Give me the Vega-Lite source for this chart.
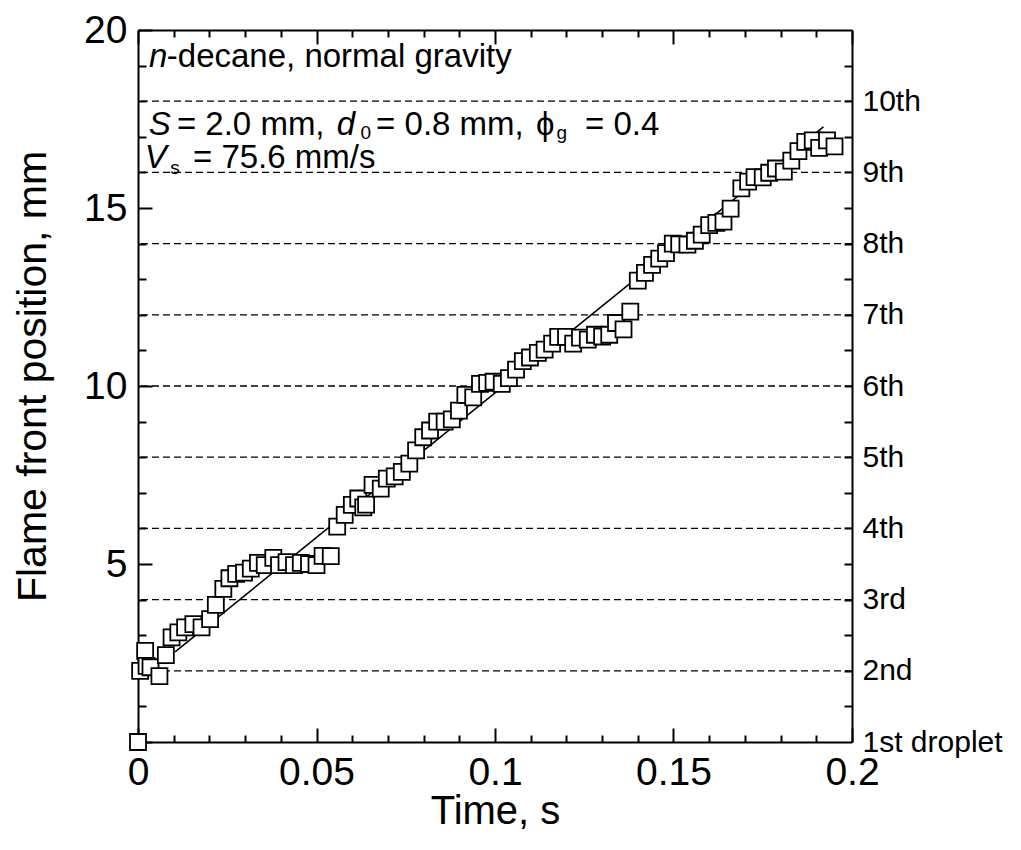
{
  "$schema": "https://vega.github.io/schema/vega-lite/v6.json",
  "width": 714,
  "height": 712,
  "autosize": {"type": "none"},
  "padding": {"left": 138, "top": 30, "right": 169, "bottom": 108},
  "background": "white",
  "config": {
    "font": "Liberation Sans",
    "view": {"stroke": null},
    "axis": {
      "grid": false,
      "domainColor": "black",
      "domainWidth": 2,
      "tickColor": "black",
      "tickWidth": 2,
      "labelColor": "black",
      "titleColor": "black",
      "titleFontWeight": "normal",
      "labelFlush": false,
      "labelOverlap": false
    }
  },
  "datasets": {
    "grid": [{"pos": 2}, {"pos": 4}, {"pos": 6}, {"pos": 8}, {"pos": 10}, {"pos": 12}, {"pos": 14}, {"pos": 16}, {"pos": 18}],
    "fit": [{"t": 0.0104, "y": 2.53}, {"t": 0.192, "y": 17.28}],
    "pts": [
      {"t": 0.0, "y": 0.0}, {"t": 0.0006, "y": 2.0}, {"t": 0.002, "y": 2.56}, {"t": 0.0024, "y": 2.14},
      {"t": 0.0035, "y": 2.1}, {"t": 0.006, "y": 1.85}, {"t": 0.0078, "y": 2.44}, {"t": 0.0094, "y": 2.94},
      {"t": 0.0113, "y": 3.08}, {"t": 0.0132, "y": 3.22}, {"t": 0.0155, "y": 3.31}, {"t": 0.0178, "y": 3.22},
      {"t": 0.0202, "y": 3.45}, {"t": 0.0218, "y": 3.85}, {"t": 0.0239, "y": 4.3}, {"t": 0.0256, "y": 4.6},
      {"t": 0.0275, "y": 4.72}, {"t": 0.0297, "y": 4.76}, {"t": 0.0316, "y": 4.87}, {"t": 0.0336, "y": 5.03},
      {"t": 0.0355, "y": 4.97}, {"t": 0.0379, "y": 5.17}, {"t": 0.0395, "y": 4.97}, {"t": 0.0416, "y": 5.05},
      {"t": 0.0437, "y": 4.97}, {"t": 0.0456, "y": 5.03}, {"t": 0.0479, "y": 5.0}, {"t": 0.05, "y": 4.97},
      {"t": 0.0517, "y": 5.23}, {"t": 0.054, "y": 5.22}, {"t": 0.0558, "y": 6.05}, {"t": 0.0579, "y": 6.38},
      {"t": 0.0599, "y": 6.66}, {"t": 0.0617, "y": 6.84}, {"t": 0.0631, "y": 6.59}, {"t": 0.0639, "y": 6.67},
      {"t": 0.0657, "y": 7.22}, {"t": 0.068, "y": 7.12}, {"t": 0.0697, "y": 7.4}, {"t": 0.0719, "y": 7.46},
      {"t": 0.0739, "y": 7.59}, {"t": 0.076, "y": 7.82}, {"t": 0.0779, "y": 8.19}, {"t": 0.0799, "y": 8.56},
      {"t": 0.0818, "y": 8.75}, {"t": 0.0838, "y": 9.0}, {"t": 0.0859, "y": 9.0}, {"t": 0.0879, "y": 9.06},
      {"t": 0.0899, "y": 9.31}, {"t": 0.0917, "y": 9.75}, {"t": 0.0939, "y": 9.68}, {"t": 0.0958, "y": 10.06},
      {"t": 0.0978, "y": 10.09}, {"t": 0.0996, "y": 10.12}, {"t": 0.1019, "y": 10.06}, {"t": 0.1039, "y": 10.22},
      {"t": 0.1059, "y": 10.46}, {"t": 0.1078, "y": 10.7}, {"t": 0.1098, "y": 10.8}, {"t": 0.112, "y": 10.93},
      {"t": 0.1139, "y": 11.02}, {"t": 0.116, "y": 11.19}, {"t": 0.1177, "y": 11.38}, {"t": 0.1199, "y": 11.38},
      {"t": 0.1219, "y": 11.19}, {"t": 0.1238, "y": 11.36}, {"t": 0.126, "y": 11.3}, {"t": 0.128, "y": 11.44},
      {"t": 0.13, "y": 11.39}, {"t": 0.132, "y": 11.44}, {"t": 0.1339, "y": 11.77}, {"t": 0.136, "y": 11.59},
      {"t": 0.1379, "y": 12.09}, {"t": 0.14, "y": 12.96}, {"t": 0.142, "y": 13.18}, {"t": 0.144, "y": 13.4},
      {"t": 0.146, "y": 13.58}, {"t": 0.1479, "y": 13.73}, {"t": 0.1498, "y": 14.0}, {"t": 0.1516, "y": 13.98},
      {"t": 0.1539, "y": 13.97}, {"t": 0.156, "y": 14.08}, {"t": 0.1579, "y": 14.25}, {"t": 0.16, "y": 14.52},
      {"t": 0.162, "y": 14.58}, {"t": 0.164, "y": 14.62}, {"t": 0.166, "y": 14.98}, {"t": 0.169, "y": 15.55},
      {"t": 0.1709, "y": 15.74}, {"t": 0.1727, "y": 15.87}, {"t": 0.175, "y": 15.86}, {"t": 0.1768, "y": 15.99},
      {"t": 0.1787, "y": 16.11}, {"t": 0.1809, "y": 16.02}, {"t": 0.183, "y": 16.33}, {"t": 0.185, "y": 16.6},
      {"t": 0.1869, "y": 16.86}, {"t": 0.189, "y": 16.9}, {"t": 0.1908, "y": 16.69}, {"t": 0.193, "y": 16.9},
      {"t": 0.1951, "y": 16.73}
    ],
    "txtNormal": [
      {"t": 0.00807, "y": 18.96, "s": "-decane, normal gravity"},
      {"t": 0.0109, "y": 17.05, "s": "= 2.0 mm,"},
      {"t": 0.0667, "y": 17.05, "s": "= 0.8 mm,"},
      {"t": 0.1115, "y": 17.05, "s": "ϕ"},
      {"t": 0.1252, "y": 17.05, "s": "= 0.4"},
      {"t": 0.0154, "y": 16.12, "s": "= 75.6 mm/s"}
    ],
    "txtItalic": [
      {"t": 0.0031, "y": 18.96, "s": "n"},
      {"t": 0.003, "y": 17.05, "s": "S"},
      {"t": 0.0557, "y": 17.05, "s": "d"},
      {"t": 0.0019, "y": 16.12, "s": "V"}
    ],
    "txtSub": [
      {"t": 0.0623, "y": 16.94, "s": "0"},
      {"t": 0.1172, "y": 16.94, "s": "g"},
      {"t": 0.009, "y": 15.96, "s": "s"}
    ]
  },
  "layer": [
    {
      "data": {"name": "grid"},
      "mark": {"type": "rule", "color": "black", "strokeDash": [7, 4], "strokeWidth": 1.3},
      "encoding": {
        "y": {"field": "pos", "type": "quantitative", "scale": {"domain": [0, 20], "nice": false, "zero": false},
          "axis": {"orient": "left", "title": "Flame front position, mm", "ticks": false,
            "values": [5, 10, 15, 20],
            "labelPadding": 11, "labelFontSize": 39, "titleFontSize": 41, "titleX": -93, "titleY": 346, "titleBaseline": "alphabetic"}}
      }
    },
    {
      "data": {"name": "fit"},
      "mark": {"type": "line", "color": "black", "strokeWidth": 1.6},
      "encoding": {
        "x": {"field": "t", "type": "quantitative", "scale": {"domain": [0, 0.2], "nice": false, "zero": false},
          "axis": {"orient": "bottom", "title": "Time, s", "format": ".2~f", "ticks": false,
            "values": [0, 0.05, 0.1, 0.15, 0.2],
            "labelPadding": 11, "labelFontSize": 39, "titleFontSize": 40, "titleY": 81, "titleBaseline": "alphabetic"}},
        "y": {"field": "y", "type": "quantitative", "scale": {"domain": [0, 20], "nice": false, "zero": false},
          "axis": {"orient": "right", "title": null, "ticks": false,
            "values": [0, 2, 4, 6, 8, 10, 12, 14, 16, 18],
            "labelExpr": "datum.value == 0 ? '1st droplet' : datum.value == 2 ? '2nd' : datum.value == 4 ? '3rd' : (datum.value / 2 + 1) + 'th'",
            "labelPadding": 10, "labelFontSize": 30, "labelAlign": "left", "labelBaseline": "middle"}}
      }
    },
    {
      "data": {"name": "pts"},
      "mark": {"type": "point", "shape": "square", "filled": true, "fill": "white", "stroke": "black", "strokeWidth": 1.8, "size": 256, "opacity": 1},
      "encoding": {
        "x": {"field": "t", "type": "quantitative", "scale": {"domain": [0, 0.2], "nice": false, "zero": false},
          "axis": {"orient": "top", "offset": -712, "title": null, "labels": false, "domain": false,
            "values": [0, 0.05, 0.1, 0.15, 0.2], "tickSize": 14}},
        "y": {"field": "y", "type": "quantitative", "scale": {"domain": [0, 20], "nice": false, "zero": false},
          "axis": {"orient": "right", "offset": -714, "title": null, "labels": false, "domain": false,
            "values": [0, 5, 10, 15, 20], "tickSize": 14}}
      }
    },
    {
      "data": {"name": "txtNormal"},
      "mark": {"type": "text", "align": "left", "baseline": "alphabetic", "fontSize": 33, "color": "black"},
      "encoding": {
        "x": {"field": "t", "type": "quantitative", "scale": {"domain": [0, 0.2], "nice": false, "zero": false},
          "axis": {"orient": "top", "offset": -712, "title": null, "labels": false, "domain": false,
            "values": [0.01, 0.02, 0.03, 0.04, 0.06, 0.07, 0.08, 0.09, 0.11, 0.12, 0.13, 0.14, 0.16, 0.17, 0.18, 0.19], "tickSize": 7}},
        "y": {"field": "y", "type": "quantitative", "scale": {"domain": [0, 20], "nice": false, "zero": false},
          "axis": {"orient": "right", "offset": -714, "title": null, "labels": false, "domain": false,
            "values": [1, 2, 3, 4, 6, 7, 8, 9, 11, 12, 13, 14, 16, 17, 18, 19], "tickSize": 8}},
        "text": {"field": "s"}
      }
    },
    {
      "data": {"name": "txtItalic"},
      "mark": {"type": "text", "align": "left", "baseline": "alphabetic", "fontSize": 33, "fontStyle": "italic", "color": "black"},
      "encoding": {
        "x": {"field": "t", "type": "quantitative", "scale": {"domain": [0, 0.2], "nice": false, "zero": false},
          "axis": {"orient": "bottom", "offset": -712, "title": null, "labels": false, "domain": true,
            "values": [0, 0.05, 0.1, 0.15, 0.2], "tickSize": 14}},
        "y": {"field": "y", "type": "quantitative", "scale": {"domain": [0, 20], "nice": false, "zero": false},
          "axis": {"orient": "left", "offset": -714, "title": null, "labels": false, "domain": false,
            "values": [1, 2, 3, 4, 5, 6, 7, 8, 9, 10, 11, 12, 13, 14, 15, 16, 17, 18, 19], "tickSize": 8}},
        "text": {"field": "s"}
      }
    },
    {
      "data": {"name": "txtSub"},
      "mark": {"type": "text", "align": "left", "baseline": "alphabetic", "fontSize": 19, "color": "black"},
      "encoding": {
        "x": {"field": "t", "type": "quantitative", "scale": {"domain": [0, 0.2], "nice": false, "zero": false},
          "axis": {"orient": "bottom", "offset": -712, "title": null, "labels": false, "domain": false,
            "values": [0.01, 0.02, 0.03, 0.04, 0.06, 0.07, 0.08, 0.09, 0.11, 0.12, 0.13, 0.14, 0.16, 0.17, 0.18, 0.19], "tickSize": 7}},
        "y": {"field": "y", "type": "quantitative", "scale": {"domain": [0, 20], "nice": false, "zero": false}, "axis": null},
        "text": {"field": "s"}
      }
    }
  ],
  "resolve": {
    "scale": {"x": "independent", "y": "independent"},
    "axis": {"x": "independent", "y": "independent"}
  }
}
